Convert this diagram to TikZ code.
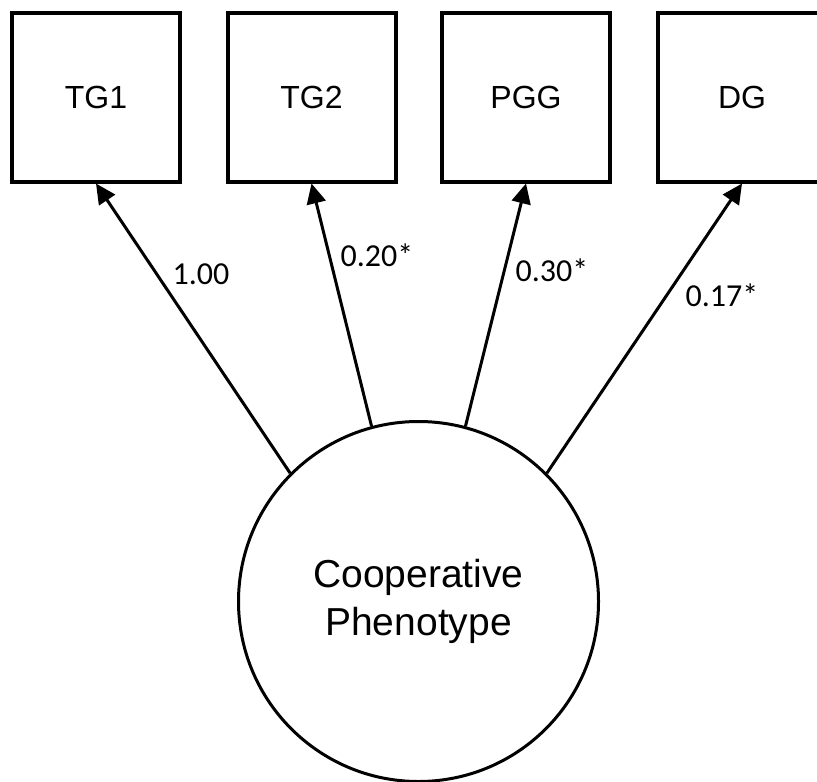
\documentclass[tikz,border=0pt]{standalone}
\usepackage{fontspec}
\setmainfont{Liberation Sans}
\newfontfamily\labelfont{Carlito}
\usetikzlibrary{positioning,arrows.meta}

\tikzset{
  game/.style={draw, line width=2pt, minimum width=84pt, minimum height=84pt,
    inner sep=0pt, font=\fontsize{16}{19}\selectfont},
  latent/.style={draw, circle, line width=1.5pt, minimum size=180pt, inner sep=0pt,
    align=center, font=\fontsize{19.5}{24}\selectfont},
  loading/.style={line width=1.5pt, -{Triangle[length=10pt,width=9.5pt]}},
  coef/.style={font=\labelfont\fontsize{16}{19}\selectfont, inner sep=0pt}
}

\begin{document}
\begin{tikzpicture}[x=0.5pt,y=-0.5pt]
  \useasboundingbox[fill=white] (0,0) rectangle (817,781);
  % observed games
  \node[game] (tg1) at (96,97.5) {TG1};
  \node[game] (tg2) at (311.5,97.5) {TG2};
  \node[game] (pgg) at (526,97.5) {PGG};
  \node[game] (dg) at (742,97.5) {DG};
  % latent factor
  \node[latent] (coop) at (418.5,601.5) {Cooperative\\Phenotype};
  % loadings
  \draw[loading] (coop.135) -- (tg1.south);
  \draw[loading] (coop.105) -- (tg2.south);
  \draw[loading] (coop.75) -- (pgg.south);
  \draw[loading] (coop.45) -- (dg.south);
  \node[coef] (l1) at (201,274) {1.00};
  \node[coef] (l2) at (377,255) {0.20*};
  \node[coef] (l3) at (552,270) {0.30*};
  \node[coef] (l4) at (722,295) {0.17*};
\end{tikzpicture}
\end{document}
